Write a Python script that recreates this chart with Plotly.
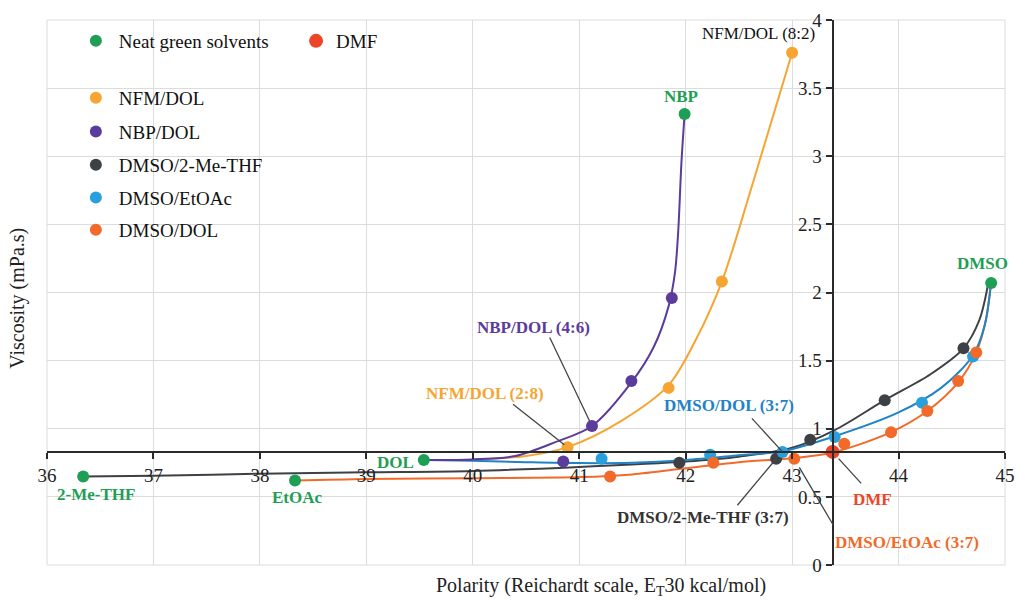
import plotly.graph_objects as go

# ---- data: polarity (ET30, kcal/mol) vs viscosity (mPa.s) ----
neat_names = ["2-Me-THF", "EtOAc", "DOL", "NBP", "DMSO"]
neat_x = [36.34, 38.33, 39.54, 41.99, 44.87]
neat_y = [0.65, 0.62, 0.77, 3.31, 2.07]

dmf_x = [43.38]
dmf_y = [0.83]

nfm_dol_x = [40.89, 41.84, 42.34, 43.00]
nfm_dol_y = [0.865, 1.30, 2.08, 3.76]
nfm_dol_fit_x = [39.54, 40.0, 40.5, 40.89, 41.4, 41.84, 42.1, 42.34, 42.63, 43.0]
nfm_dol_fit_y = [0.77, 0.775, 0.80, 0.865, 1.06, 1.32, 1.66, 2.08, 2.80, 3.76]

nbp_dol_x = [40.85, 41.12, 41.49, 41.87]
nbp_dol_y = [0.76, 1.02, 1.35, 1.96]
nbp_dol_fit_x = [39.54, 40.0, 40.4, 40.77, 41.12, 41.49, 41.70, 41.84, 41.90, 41.93, 41.96, 41.99]
nbp_dol_fit_y = [0.77, 0.775, 0.80, 0.90, 1.02, 1.34, 1.60, 1.90, 2.15, 2.45, 2.95, 3.31]

dmso_mthf_x = [41.94, 42.85, 43.17, 43.87, 44.61]
dmso_mthf_y = [0.75, 0.78, 0.92, 1.21, 1.59]
dmso_mthf_fit_x = [36.34, 37.0, 38.0, 39.0, 40.0, 41.0, 42.0, 42.5, 43.0, 43.4, 43.87, 44.3, 44.61, 44.76, 44.85]
dmso_mthf_fit_y = [0.65, 0.655, 0.67, 0.68, 0.69, 0.72, 0.76, 0.795, 0.86, 0.99, 1.21, 1.40, 1.59, 1.80, 2.10]

dmso_etoac_x = [41.21, 42.23, 42.91, 43.40, 44.22, 44.70]
dmso_etoac_y = [0.78, 0.81, 0.83, 0.94, 1.19, 1.53]
dmso_etoac_fit_x = [39.54, 40.0, 40.5, 41.0, 41.5, 42.0, 42.5, 42.91, 43.4, 44.0, 44.4, 44.7, 44.81, 44.87]
dmso_etoac_fit_y = [0.77, 0.765, 0.755, 0.748, 0.75, 0.77, 0.805, 0.835, 0.945, 1.12, 1.30, 1.54, 1.76, 2.08]

dmso_dol_x = [41.29, 42.26, 43.02, 43.49, 43.93, 44.27, 44.56, 44.73]
dmso_dol_y = [0.65, 0.75, 0.78, 0.89, 0.975, 1.13, 1.35, 1.56]
dmso_dol_fit_x = [38.33, 39.0, 40.0, 41.0, 41.5, 42.0, 42.5, 43.02, 43.4, 43.93, 44.27, 44.56, 44.73, 44.82, 44.87]
dmso_dol_fit_y = [0.62, 0.632, 0.637, 0.645, 0.665, 0.71, 0.755, 0.785, 0.83, 0.975, 1.13, 1.34, 1.56, 1.80, 2.08]

x_range = [36, 45]
y_range = [0, 4]

SERIF = "Liberation Serif, Times New Roman, serif"
GREEN = "#1f9e55"
DMF_RED = "#ee4528"
C_NFM = "#f6a533"
C_NBP = "#5b3c9c"
C_MTHF = "#3d4145"
C_ETOAC = "#1f83c6"
C_DOL = "#f26a2a"
C_ETOAC_MK = "#27a0dc"

fig = go.Figure()

# fitted trend curves (drawn first, under the markers)
fits = [
    (nfm_dol_fit_x, nfm_dol_fit_y, C_NFM),
    (dmso_dol_fit_x, dmso_dol_fit_y, C_DOL),
    (dmso_mthf_fit_x, dmso_mthf_fit_y, C_MTHF),
    (dmso_etoac_fit_x, dmso_etoac_fit_y, C_ETOAC),
    (nbp_dol_fit_x, nbp_dol_fit_y, C_NBP),
]
for fx, fy, col in fits:
    fig.add_trace(go.Scatter(x=fx, y=fy, mode="lines", line=dict(color=col, width=2, shape="spline", smoothing=0.9),
                             showlegend=False, hoverinfo="skip"))

MS = 12
series = [
    ("Neat green solvents", neat_x, neat_y, GREEN, "legend"),
    ("DMF", dmf_x, dmf_y, DMF_RED, "legend2"),
    ("NFM/DOL", nfm_dol_x, nfm_dol_y, C_NFM, "legend3"),
    ("NBP/DOL", nbp_dol_x, nbp_dol_y, C_NBP, "legend4"),
    ("DMSO/2-Me-THF", dmso_mthf_x, dmso_mthf_y, C_MTHF, "legend5"),
    ("DMSO/EtOAc", dmso_etoac_x, dmso_etoac_y, C_ETOAC_MK, "legend6"),
    ("DMSO/DOL", dmso_dol_x, dmso_dol_y, C_DOL, "legend7"),
]
draw_order = [2, 3, 4, 5, 6, 0, 1]
for i in draw_order:
    name, sx, sy, col, lg = series[i]
    fig.add_trace(go.Scatter(x=sx, y=sy, mode="markers", name=name, legend=lg,
                             marker=dict(color=col, size=MS + (2 if name == "DMF" else 0), line=dict(width=0))))

# one legend box per entry
leg_font = dict(family=SERIF, size=19, color="#111111")
leg_pos = {
    "legend": (0.027, 0.9615),
    "legend2": (0.260, 0.9615),
    "legend3": (0.027, 0.857),
    "legend4": (0.027, 0.795),
    "legend5": (0.027, 0.734),
    "legend6": (0.027, 0.674),
    "legend7": (0.027, 0.615),
}
legend_layout = {}
for key, (lx, ly) in leg_pos.items():
    legend_layout[key] = dict(x=lx, y=ly, xanchor="left", yanchor="middle", bgcolor="rgba(0,0,0,0)",
                              font=leg_font, itemwidth=36 if key != "legend2" else 30,
                              borderwidth=0, tracegroupgap=0)

# labels for points
def label(text, px, py, dx, dy, color, bold=True, size=17, xanchor="center"):
    t = f"<b>{text}</b>" if bold else text
    return dict(x=px, y=py, xref="x", yref="y", text=t, showarrow=False, xshift=dx, yshift=-dy,
                xanchor=xanchor, yanchor="middle", font=dict(family=SERIF, size=size, color=color))

def leader(px, py, ax, ay, standoff=0):
    return dict(x=px, y=py, xref="x", yref="y", text="", showarrow=True, arrowhead=0, arrowwidth=1.3,
                arrowcolor="#444444", ax=ax, ay=ay, standoff=standoff)

annotations = [
    label("NBP", neat_x[3], neat_y[3], -4, -18, GREEN),
    label("DMSO", neat_x[4], neat_y[4], -9, -19, GREEN),
    label("DOL", neat_x[2], neat_y[2], -8, 2, GREEN, xanchor="right"),
    label("2-Me-THF", neat_x[0], neat_y[0], 13, 18, GREEN),
    label("EtOAc", neat_x[1], neat_y[1], 2, 17, GREEN),
    label("NFM/DOL (8:2)", nfm_dol_x[3], nfm_dol_y[3], -34, -19, "#111111", bold=False),
    label("NBP/DOL (4:6)", nbp_dol_x[1], nbp_dol_y[1], -59, -99, C_NBP),
    leader(nbp_dol_x[1], nbp_dol_y[1], -43, -90, standoff=5),
    label("NFM/DOL (2:8)", nfm_dol_x[0], nfm_dol_y[0], -83, -54, C_NFM),
    leader(nfm_dol_x[0], nfm_dol_y[0], -56, -44, standoff=4),
    label("DMSO/DOL (3:7)", dmso_etoac_x[2], dmso_etoac_y[2], -54, -46, C_ETOAC),
    leader(dmso_etoac_x[2], dmso_etoac_y[2], -32, -35),
    label("DMSO/2-Me-THF (3:7)", dmso_mthf_x[1], dmso_mthf_y[1], -73, 59, "#333333"),
    leader(dmso_mthf_x[1], dmso_mthf_y[1], -40, 48),
    label("DMF", dmf_x[0], dmf_y[0], 40, 48, DMF_RED),
    leader(dmf_x[0], dmf_y[0], 30, 33, standoff=9),
    label("DMSO/EtOAc (3:7)", dmso_dol_x[2], dmso_dol_y[2], 113, 84, C_DOL),
    leader(dmso_dol_x[2], dmso_dol_y[2], 40, 68, standoff=10),
    # axis titles
    dict(x=0.5785, y=-0.040, xref="paper", yref="paper", showarrow=False, xanchor="center", yanchor="middle",
         text="Polarity (Reichardt scale, E<sub>T</sub>30 kcal/mol)", font=dict(family=SERIF, size=20, color="#222222")),
    dict(x=-0.031, y=0.489, xref="paper", yref="paper", showarrow=False, xanchor="center", yanchor="middle",
         textangle=-90, text="Viscosity (mPa.s)", font=dict(family=SERIF, size=20, color="#222222")),
]

# axes cross at the DMF point
x_cross = (dmf_y[0] - y_range[0]) / (y_range[1] - y_range[0])
y_cross = (dmf_x[0] - x_range[0]) / (x_range[1] - x_range[0])

axis_common = dict(showgrid=True, gridcolor="#dcdcdc", gridwidth=1, zeroline=False, showline=True,
                   linecolor="#2a2a2a", linewidth=2, ticks="outside", ticklen=6, tickwidth=2,
                   tickcolor="#2a2a2a", tickfont=dict(family=SERIF, size=19, color="#222222"), anchor="free")

fig.update_layout(
    width=1025, height=601,
    margin=dict(l=47, r=10, t=19, b=36),
    paper_bgcolor="white", plot_bgcolor="white",
    xaxis=dict(range=x_range, dtick=1, tick0=36, position=x_cross, **axis_common),
    yaxis=dict(range=y_range, dtick=0.5, tick0=0, position=y_cross, **axis_common),
    annotations=annotations,
    shapes=[dict(type="rect", xref="paper", yref="paper", x0=0, y0=0, x1=1, y1=1,
                 line=dict(color="#dcdcdc", width=1), layer="below")],
    showlegend=True,
    **legend_layout,
)

fig.write_html("out.html")
